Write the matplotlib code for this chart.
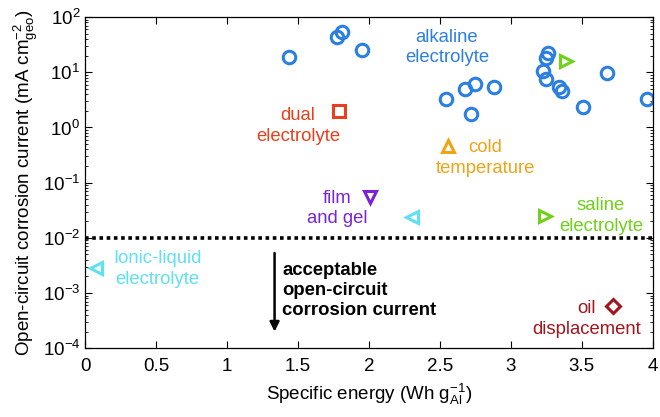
import matplotlib
matplotlib.use('Agg')
import matplotlib.pyplot as plt
from matplotlib.ticker import LogLocator, NullFormatter

plt.rcParams['font.family'] = ['Liberation Sans', 'DejaVu Sans']
plt.rcParams['mathtext.fontset'] = 'custom'
plt.rcParams['mathtext.rm'] = 'Liberation Sans'
plt.rcParams['mathtext.it'] = 'Liberation Sans:italic'
plt.rcParams['mathtext.bf'] = 'Liberation Sans:bold'

# alkaline electrolyte (blue circles)
alk_x = [1.44, 1.775, 1.81, 1.95, 2.54, 2.68, 2.75, 2.88, 2.72,
         3.26, 3.25, 3.23, 3.25, 3.34, 3.36, 3.51, 3.68, 3.96]
alk_y = [19, 43, 53, 25, 3.3, 5.0, 6.1, 5.4, 1.75,
         22, 18, 10.5, 7.5, 5.4, 4.6, 2.35, 9.7, 3.3]

# other categories
dual = (1.79, 2.0)
cold = (2.56, 0.46)
saline_x = [3.39, 3.24]
saline_y = [16, 0.025]
film = (2.01, 0.055)
ionic_x = [2.30, 0.08]
ionic_y = [0.024, 0.0028]
oil = (3.72, 5.8e-4)

xticks = [0, 0.5, 1, 1.5, 2, 2.5, 3, 3.5, 4]
xticklabels = ['0', '0.5', '1', '1.5', '2', '2.5', '3', '3.5', '4']

BLUE = '#2b7fe0'
RED = '#e8401c'
ORANGE = '#eea416'
GREEN = '#6fd118'
PURPLE = '#7a22d8'
CYAN = '#5ee0f5'
DARKRED = '#a3141c'

fig = plt.figure(figsize=(6.6, 4.17), dpi=100)
ax = fig.add_axes([0.129, 0.165, 0.860, 0.794])

ms = 9
mew = 2.2
ax.plot(alk_x, alk_y, 'o', ms=ms, mfc='none', mec=BLUE, mew=mew)
ax.plot(*dual, 's', ms=ms - 1, mfc='none', mec=RED, mew=mew)
ax.plot(*cold, '^', ms=ms, mfc='none', mec=ORANGE, mew=mew)
ax.plot(saline_x, saline_y, '>', ms=ms, mfc='none', mec=GREEN, mew=mew)
ax.plot(*film, 'v', ms=ms, mfc='none', mec=PURPLE, mew=mew)
ax.plot(ionic_x, ionic_y, '<', ms=ms, mfc='none', mec=CYAN, mew=mew)
ax.plot(*oil, 'D', ms=ms - 2, mfc='none', mec=DARKRED, mew=mew)

ax.axhline(0.01, color='black', lw=2.6, ls=(0, (1, 1)))
ax.annotate('', xy=(1.335, 2.0e-4), xytext=(1.335, 5.3e-3),
            arrowprops=dict(arrowstyle='-|>', color='black', lw=1.8,
                            mutation_scale=14, shrinkA=0, shrinkB=0))

fs = 13.3
ls = 1.28
ax.text(1.39, 1.1e-3, 'acceptable\nopen-circuit\ncorrosion current',
        fontsize=fs, fontweight='bold', ha='left', va='center', linespacing=1.22)
ax.text(2.55, 28, 'alkaline\nelectrolyte', color=BLUE, fontsize=fs,
        ha='center', va='center', linespacing=ls)
ax.text(1.50, 1.06, 'dual\nelectrolyte', color=RED, fontsize=fs,
        ha='center', va='center', linespacing=ls)
ax.text(2.82, 0.28, 'cold\ntemperature', color=ORANGE, fontsize=fs,
        ha='center', va='center', linespacing=ls)
ax.text(1.775, 0.034, 'film\nand gel', color=PURPLE, fontsize=fs,
        ha='center', va='center', linespacing=ls)
ax.text(3.635, 0.025, 'saline\nelectrolyte', color=GREEN, fontsize=fs,
        ha='center', va='center', linespacing=ls)
ax.text(0.51, 0.0027, 'Ionic-liquid\nelectrolyte', color=CYAN, fontsize=fs,
        ha='center', va='center', linespacing=ls)
ax.text(3.535, 3.4e-4, 'oil\ndisplacement', color=DARKRED, fontsize=fs,
        ha='center', va='center', linespacing=ls)

ax.set_yscale('log')
ax.set_xlim(0, 4)
ax.set_ylim(1e-4, 1e2)
ax.set_xticks(xticks)
ax.set_xticklabels(xticklabels)
ax.yaxis.set_major_locator(LogLocator(base=10, numticks=10))
ax.yaxis.set_minor_locator(LogLocator(base=10, subs=range(2, 10), numticks=20))
ax.yaxis.set_minor_formatter(NullFormatter())
ax.tick_params(which='both', direction='in', top=True, right=True, labelsize=13.5)
ax.tick_params(axis='x', pad=7)
ax.tick_params(which='major', length=5, width=0.8)
ax.tick_params(which='minor', length=2.5, width=0.6)
for s in ax.spines.values():
    s.set_linewidth(0.9)

ax.set_xlabel(r'Specific energy (Wh g$_{\mathrm{Al}}^{-1}$)', fontsize=13.5, labelpad=5)
ax.set_ylabel(r'Open-circuit corrosion current (mA cm$_{\mathrm{geo}}^{-2}$)', fontsize=13.5, labelpad=2)

fig.savefig('out.png', dpi=100)
